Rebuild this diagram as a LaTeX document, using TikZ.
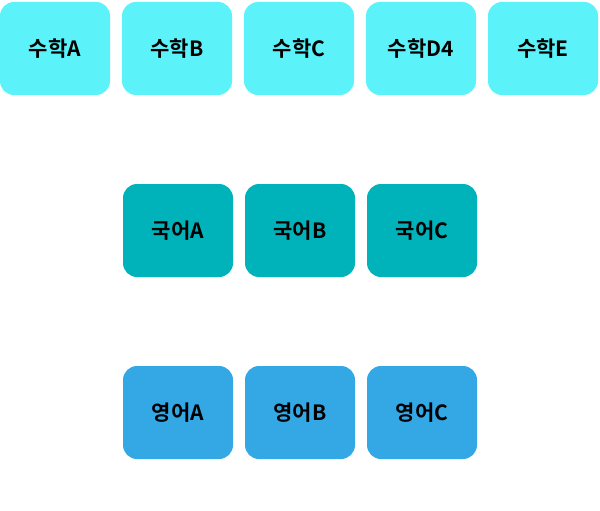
\documentclass[tikz,border=0pt]{standalone}
\usepackage{fontspec}
\newfontfamily\kr{Noto Sans CJK KR}[BoldFont={* Bold}]
\definecolor{mathc}{HTML}{5BF3F9}
\definecolor{korc}{HTML}{00B2B9}
\definecolor{engc}{HTML}{34A8E5}
\begin{document}
\begin{tikzpicture}[x=1pt,y=-1pt,
  box/.style={rounded corners=14pt,minimum width=110pt,minimum height=93pt,inner sep=0pt,
    font=\kr\bfseries\fontsize{21}{23}\selectfont,text=black},
  mbox/.style={box,fill=mathc},
  kbox/.style={box,fill=korc},
  ebox/.style={box,fill=engc}]
\useasboundingbox (0,0) rectangle (600,511);
\node[mbox] (m1) at (55,48.5) {수학A};
\node[mbox] (m2) at (177,48.5) {수학B};
\node[mbox] (m3) at (299,48.5) {수학C};
\node[mbox] (m4) at (421,48.5) {수학D4};
\node[mbox] (m5) at (543,48.5) {수학E};
\node[kbox] (k1) at (178,230.5) {국어A};
\node[kbox] (k2) at (300,230.5) {국어B};
\node[kbox] (k3) at (422,230.5) {국어C};
\node[ebox] (e1) at (178,412.5) {영어A};
\node[ebox] (e2) at (300,412.5) {영어B};
\node[ebox] (e3) at (422,412.5) {영어C};
\end{tikzpicture}
\end{document}
